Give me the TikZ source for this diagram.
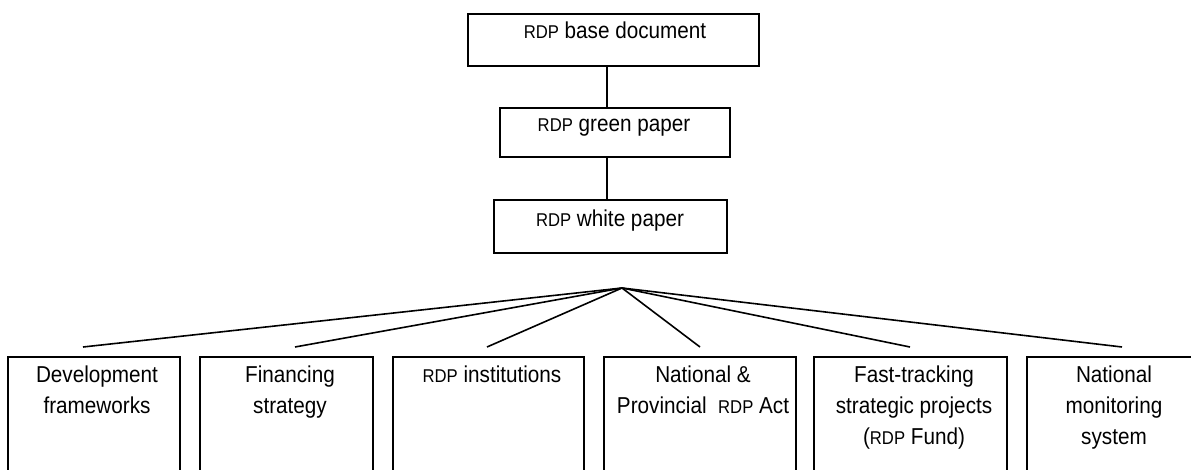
\documentclass[tikz,border=0pt]{standalone}
\usepackage{fontspec}
\setmainfont[FakeStretch=0.9]{Liberation Sans}
\newcommand\rdpsc{{\fontsize{18.5}{31}\selectfont RDP}}
\begin{document}
\begin{tikzpicture}[x=1pt,y=-1pt,
  box/.style={draw, line width=1.6pt, inner sep=0pt, anchor=north west},
  lbl/.style={align=center, inner sep=0pt, font=\fontsize{23}{31}\selectfont},
  link/.style={line width=1.6pt}]
\useasboundingbox (0,0) rectangle (1191,470);
\clip (0,0) rectangle (1191,470);
% top chain
\node[box, minimum width=291pt, minimum height=52pt] (base) at (467,13) {};
\node[box, minimum width=230pt, minimum height=49pt] (green) at (499,107) {};
\node[box, minimum width=233pt, minimum height=53pt] (white) at (493,199) {};
\node[lbl, anchor=base] (tbase) at (615,39) {\rdpsc{} base document};
\node[lbl, anchor=base] (tgreen) at (614,132) {\rdpsc{} green paper};
\node[lbl, anchor=base] (twhite) at (610,227) {\rdpsc{} white paper};
\coordinate (v) at (607,0);
\draw[link] (base.south -| v) -- (green.north -| v);
\draw[link] (green.south -| v) -- (white.north -| v);
% bottom boxes
\node[box, minimum width=172pt, minimum height=140pt] (b1) at (7,356) {};
\node[box, minimum width=173pt, minimum height=140pt] (b2) at (199,356) {};
\node[box, minimum width=191pt, minimum height=140pt] (b3) at (392,356) {};
\node[box, minimum width=192pt, minimum height=140pt] (b4) at (603,356) {};
\node[box, minimum width=193pt, minimum height=140pt] (b5) at (813,356) {};
\node[box, minimum width=177pt, minimum height=140pt] (b6) at (1026,356) {};
\node[lbl, anchor=north] (t1) at (97,365.5) {Development\\frameworks};
\node[lbl, anchor=north] (t2) at (290,365.5) {Financing\\strategy};
\node[lbl, anchor=north] (t3) at (492,365.5) {\rdpsc{} institutions};
\node[lbl, anchor=north] (t4) at (703,365.5) {National \&\\Provincial\hspace{0.5em}\rdpsc{} Act};
\node[lbl, anchor=north] (t5) at (914,365.5) {Fast-tracking\\strategic projects\\(\rdpsc{} Fund)};
\node[lbl, anchor=north] (t6) at (1114,365.5) {National\\monitoring\\system};
% fan connectors
\coordinate (apex) at (622,288);
\coordinate (e1) at (83,347);
\coordinate (e2) at (295,347);
\coordinate (e3) at (487,347);
\coordinate (e4) at (700,347);
\coordinate (e5) at (910,347);
\coordinate (e6) at (1122,347);
\foreach \e in {e1,e2,e3,e4,e5,e6} \draw[link] (apex) -- (\e);
\end{tikzpicture}
\end{document}
